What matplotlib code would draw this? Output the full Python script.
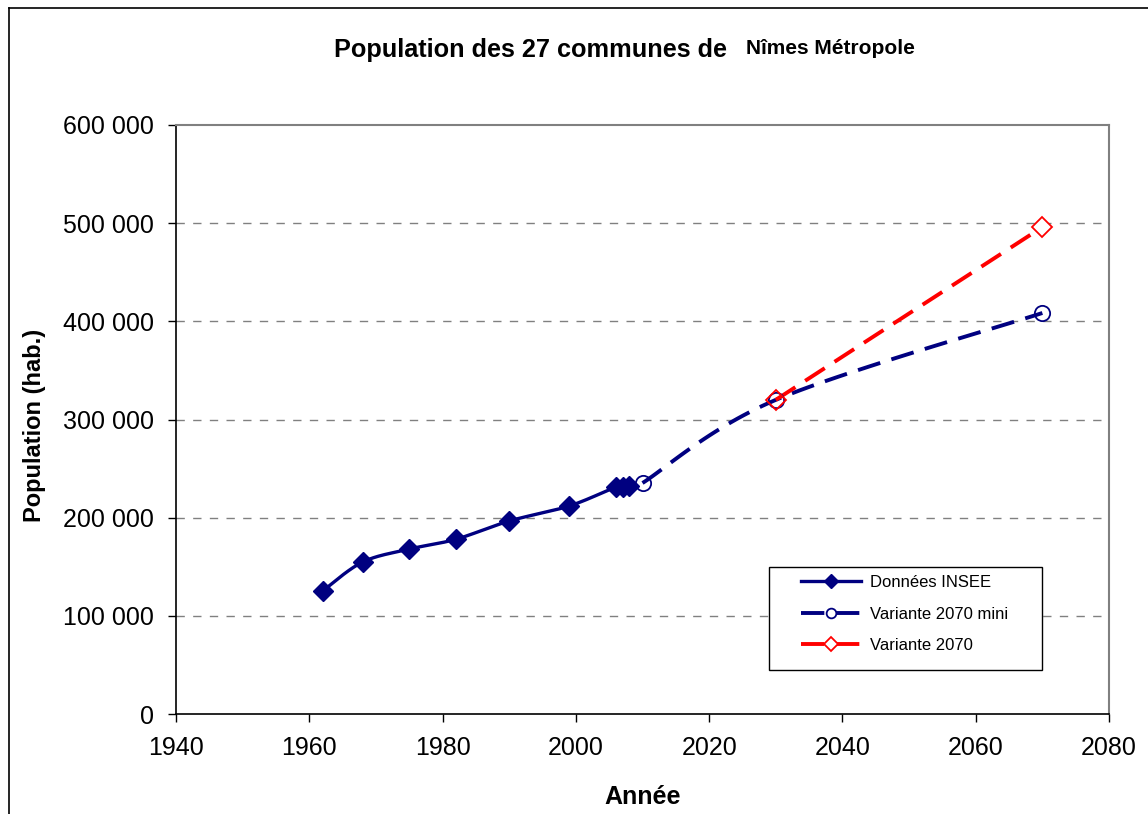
import numpy as np
import matplotlib.pyplot as plt
from matplotlib.lines import Line2D
from matplotlib.patches import Rectangle
from matplotlib.ticker import FuncFormatter

plt.rcParams['font.family'] = ['Liberation Sans', 'DejaVu Sans']

# data
insee_years = [1962, 1968, 1975, 1982, 1990, 1999, 2006, 2007, 2008]
insee_pop = [125300, 154800, 168000, 178000, 196600, 211900, 231200, 231600, 232100]
mini_years = [2010, 2030, 2070]
mini_pop = [235300, 320000, 408500]
var_years = [2030, 2070]
var_pop = [320000, 496000]

navy = '#000080'
red = '#ff0000'


def smooth(x, y, n=30):
    # Excel-like smoothed line: cubic Bezier through the points
    x = np.asarray(x, float)
    y = np.asarray(y, float)
    if len(x) < 3:
        return x, y
    pts = np.column_stack([x, y])
    out = []
    for i in range(len(pts) - 1):
        p0 = pts[max(i - 1, 0)]
        p1 = pts[i]
        p2 = pts[i + 1]
        p3 = pts[min(i + 2, len(pts) - 1)]
        c1 = p1 + (p2 - p0) / 6
        c2 = p2 - (p3 - p1) / 6
        t = np.linspace(0, 1, n)[:, None]
        seg = ((1 - t) ** 3) * p1 + 3 * ((1 - t) ** 2) * t * c1 + 3 * (1 - t) * t ** 2 * c2 + t ** 3 * p2
        out.append(seg if i == 0 else seg[1:])
    out = np.vstack(out)
    return out[:, 0], out[:, 1]


fig = plt.figure(figsize=(11.48, 8.14), dpi=100)
ax = fig.add_axes([176 / 1148, 100 / 814, 933 / 1148, 589 / 814])

# outer chart frame (cut at right and bottom)
fig.add_artist(Line2D([9 / 1148, 9 / 1148], [0, 1 - 8 / 814], color='black', lw=1.2, transform=fig.transFigure))
fig.add_artist(Line2D([9 / 1148, 1], [1 - 8 / 814, 1 - 8 / 814], color='black', lw=1.2, transform=fig.transFigure))

for yv in range(100000, 600000, 100000):
    ax.axhline(yv, color='#808080', lw=1, dashes=(6, 6), zorder=0)

sx, sy = smooth(insee_years, insee_pop)
ax.plot(sx, sy, color=navy, lw=2.4, zorder=3)
ax.plot(insee_years, insee_pop, ls='none', marker='D', ms=10, color=navy, zorder=4)

mx, my = smooth(mini_years, mini_pop)
ax.plot(mx, my, color=navy, lw=2.8, dashes=(6, 3), zorder=3)
ax.plot(mini_years, mini_pop, ls='none', marker='o', ms=11, mfc='none', mec=navy, mew=1.3, zorder=4)

ax.plot(var_years, var_pop, color=red, lw=2.8, dashes=(6, 3), zorder=3)
ax.plot(var_years[1:], var_pop[1:], ls='none', marker='D', ms=10, mfc='white', mec=red, mew=1.3, zorder=5)
ax.plot(var_years[:1], var_pop[:1], ls='none', marker='D', ms=10, mfc='none', mec=red, mew=1.3, zorder=5)

ax.set_xlim(1940, 2080)
ax.set_ylim(0, 600000)
ax.set_xticks(range(1940, 2081, 20))
ax.set_yticks(range(0, 600001, 100000))
ax.yaxis.set_major_formatter(FuncFormatter(lambda v, p: f'{int(v):,}'.replace(',', ' ')))
ax.tick_params(direction='out', length=6, width=1, labelsize=18, colors='black')
ax.tick_params(axis='y', pad=10)
ax.tick_params(axis='x', pad=10)

for s in ['left', 'bottom']:
    ax.spines[s].set_color('black')
    ax.spines[s].set_linewidth(1.2)
for s in ['top', 'right']:
    ax.spines[s].set_color('#808080')
    ax.spines[s].set_linewidth(1.5)

ax.set_xlabel('Année', fontsize=18, fontweight='bold', labelpad=18)
ax.set_ylabel('Population (hab.)', fontsize=17, fontweight='bold', labelpad=12)
ax.yaxis.set_label_coords(-0.139, 0.49)

fig.text(530 / 1148, 1 - 50 / 814, 'Population des 27 communes de', ha='center', va='center',
         fontsize=18.2, fontweight='bold')
fig.text(746 / 1148, 1 - 49 / 814, 'Nîmes Métropole', ha='left', va='center',
         fontsize=15, fontweight='bold')

# legend frame drawn separately to match the wide box
ax.add_patch(Rectangle(((769 - 176) / 933, (714 - 670) / 589), 273 / 933, 103 / 589,
                       transform=ax.transAxes, fc='white', ec='black', lw=1, zorder=6))
handles = [
    Line2D([], [], color=navy, lw=2.4, marker='D', ms=7),
    Line2D([], [], color=navy, lw=2.8, dashes=(6, 3), marker='o', ms=7, mfc='white', mec=navy, mew=1.3),
    Line2D([], [], color=red, lw=2.8, dashes=(6, 3), marker='D', ms=7, mfc='white', mec=red, mew=1.3),
]
leg = ax.legend(handles, ['Données INSEE', 'Variante 2070 mini', 'Variante 2070'],
                loc='upper left', bbox_to_anchor=((801 - 176) / 933, (714 - 575) / 589), fontsize=12,
                frameon=False, handlelength=3.6, labelspacing=1.0, borderpad=0,
                borderaxespad=0, handletextpad=0.55)
leg.set_zorder(7)

fig.savefig('out.png', dpi=100)
